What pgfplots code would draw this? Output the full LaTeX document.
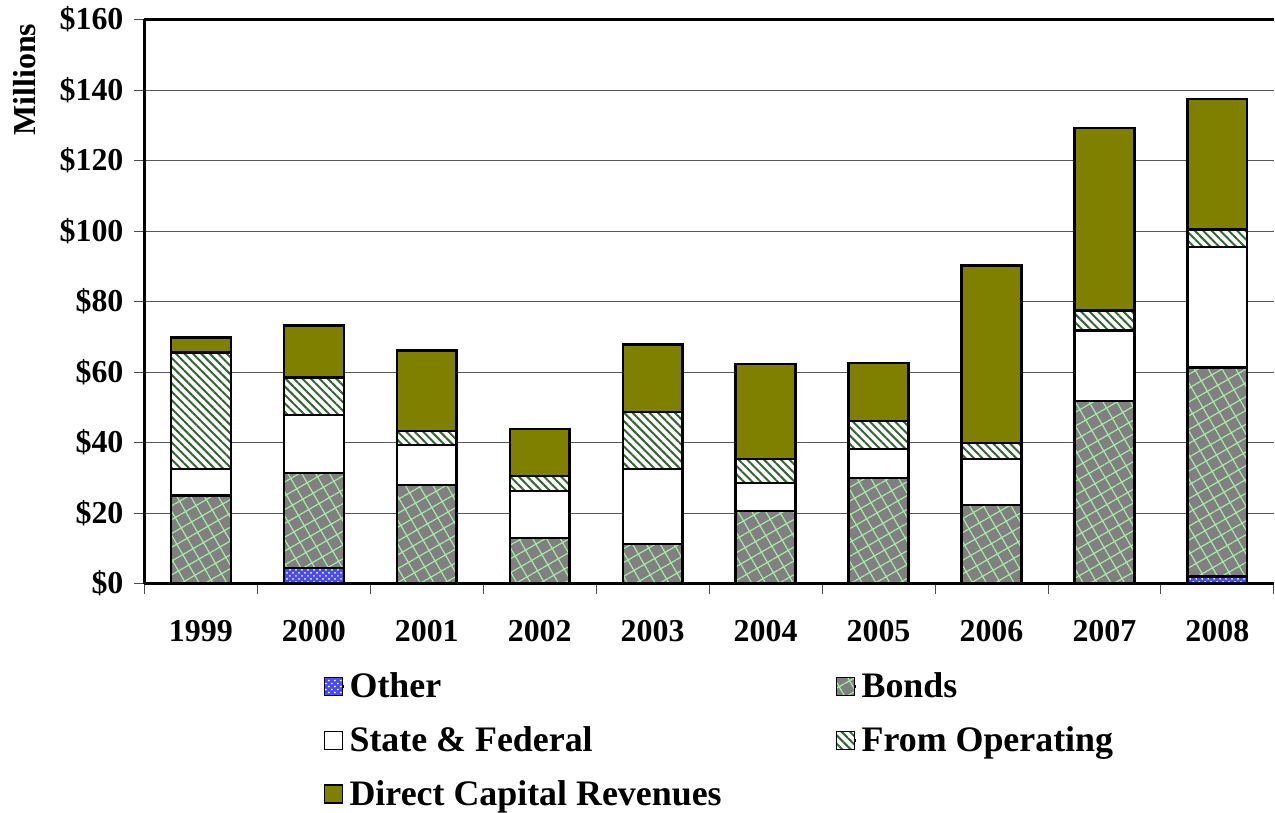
\documentclass[border=0pt]{standalone}
\usepackage{fontspec}
\setmainfont{Liberation Serif}
\usepackage{pgfplots}
\pgfplotsset{compat=1.18}
\usetikzlibrary{patterns,patterns.meta}
\definecolor{dcr}{HTML}{808000}
\definecolor{bondgray}{HTML}{808080}
\definecolor{bondgreen}{HTML}{A8E8A8}
\definecolor{opgreen}{HTML}{336633}
\definecolor{otherblue}{HTML}{4848FF}
\newcommand{\tickbf}{\fontsize{16pt}{18pt}\selectfont\bfseries}
\newcommand{\legbf}{\fontsize{18pt}{21pt}\selectfont\bfseries}
\begin{document}
\begin{tikzpicture}
\begin{axis}[
  ybar stacked,
  bar width=30pt,
  width=566.5pt, height=283pt,
  scale only axis,
  xmin=-0.5, xmax=9.5,
  ymin=0, ymax=160,
  xtick={0,...,9},
  xticklabels={1999,2000,2001,2002,2003,2004,2005,2006,2007,2008},
  major x tick style={draw=none},
  minor xtick={-0.5,0.5,1.5,2.5,3.5,4.5,5.5,6.5,7.5,8.5,9.5},
  minor x tick style={draw=black!70, thin},
  minor tick length=5pt,
  ytick={0,20,...,160},
  yticklabels={\$0,\$20,\$40,\$60,\$80,\$100,\$120,\$140,\$160},
  ymajorgrids,
  major grid style={black!65, thin},
  y tick style={black!70, thin},
  major tick length=5pt,
  tick align=outside,
  tick pos=left,
  axis x line*=box,
  axis y line*=left,
  axis line style={black, line width=1.2pt},
  tick label style={font=\tickbf},
  xticklabel style={yshift=-10pt},
  yticklabel style={xshift=-2pt},
  ylabel={Millions},
  ylabel style={font=\tickbf, inner xsep=0pt, inner ysep=6.5pt, at={(axis description cs:-0.0847,0.993)}, anchor=south east},
  legend columns=2,
  legend cell align=left,
  legend style={at={(axis description cs:0.158,-0.15)}, anchor=north west, draw=none, fill=none,
    font=\legbf, inner sep=0pt,
    /tikz/every even column/.append style={column sep=55pt},
    row sep=9pt},
  legend image code/.code={\path[draw=none,fill=none] (0pt,0pt) -- (10pt,0pt);\draw[#1, line width=0.8pt] (0pt,-4.5pt) rectangle (9pt,4.5pt);},
  every axis plot/.append style={draw=black, line width=1.2pt},
]
\addplot[fill=otherblue, postaction={pattern=crosshatch dots, pattern color=white}] coordinates
 {(0,0) (1,4.5) (2,0) (3,0) (4,0) (5,0) (6,0) (7,0) (8,0) (9,2)};
\addlegendentry{Other}
\addplot[fill=bondgray, postaction={pattern={Hatch[angle=30,distance=6pt,line width=0.6pt]}, pattern color=bondgreen}] coordinates
 {(0,25) (1,26.9) (2,28) (3,13) (4,11.3) (5,20.6) (6,30) (7,22.3) (8,51.7) (9,59.3)};
\addlegendentry{Bonds}
\addplot[fill=white] coordinates
 {(0,7.5) (1,16.4) (2,11.3) (3,13.3) (4,21.2) (5,8) (6,8.2) (7,13) (8,20.1) (9,34.2)};
\addlegendentry{State \& Federal}
\addplot[fill=white, postaction={pattern={Lines[angle=-45,distance=3pt,line width=1pt]}, pattern color=opgreen}] coordinates
 {(0,33) (1,10.7) (2,3.9) (3,4.2) (4,16.1) (5,6.7) (6,7.9) (7,4.6) (8,5.7) (9,4.9)};
\addlegendentry{From Operating}
\addplot[fill=dcr] coordinates
 {(0,4.3) (1,14.7) (2,22.9) (3,13.3) (4,19.2) (5,26.9) (6,16.4) (7,50.3) (8,51.7) (9,37)};
\addlegendentry{Direct Capital Revenues}
\end{axis}
\end{tikzpicture}
\end{document}
